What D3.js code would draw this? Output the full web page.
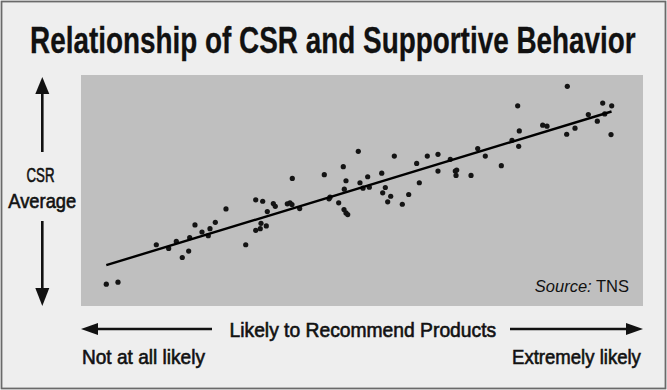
<!DOCTYPE html>
<html><head><meta charset="utf-8">
<script src="https://cdn.jsdelivr.net/npm/d3@7"></script>
<style>
body{margin:0;background:#fff}
text{font-family:"Liberation Sans",Arial,Helvetica,sans-serif}
</style>
</head><body>
<svg id="c" width="667" height="390"></svg>
<script>
const title = "Relationship of CSR and Supportive Behavior";
const yLabel = ["CSR", "Average"];
const xLabel = "Likely to Recommend Products";
const xEnds = ["Not at all likely", "Extremely likely"];
const sourceLabel = ["Source:", " TNS"];

// Likelihood to recommend (0-100) vs CSR average (0-100)
const xVals = [4.50,6.58,13.40,15.60,16.96,18.02,19.16,19.34,20.28,21.53,22.65,22.95,23.90,25.80,29.31,31.09,32.33,31.09,31.90,32.03,
  32.97,33.15,34.22,34.57,37.60,36.71,37.19,37.54,38.91,43.29,44.13,44.31,45.85,46.67,47.15,46.85,46.80,47.15,47.46,49.34,
  49.64,50.18,51.01,51.30,53.51,54.15,53.68,55.11,54.57,55.75,57.17,58.31,59.73,60.20,61.62,63.52,63.52,65.71,66.60,66.85,
  66.73,69.40,70.59,71.94,74.79,76.69,77.70,77.99,77.88,82.15,82.92,86.53,86.42,87.90,90.27,91.87,92.83,93.19,94.43,94.31];
const yVals = [9.43,10.30,26.52,24.91,27.96,21.00,23.78,29.57,35.09,32.04,30.43,33.48,36.22,42.04,26.52,45.96,45.35,32.74,33.48,35.78,
  34.65,40.87,44.35,43.17,55.22,44.22,44.65,43.91,42.17,56.83,46.39,47.09,44.65,60.30,54.22,50.57,41.74,40.30,39.57,66.96,
  53.35,51.00,55.96,51.43,57.52,51.30,49.00,47.52,45.09,64.91,44.04,48.26,61.74,53.35,64.91,65.65,58.39,63.48,58.39,58.83,
  56.52,56.52,68.13,64.91,60.74,71.74,86.65,75.78,69.13,78.26,77.83,95.09,74.35,76.96,82.91,80.00,87.83,83.17,86.65,74.22];
const trendX = [4.5, 94.4];
const trendY = [17.7, 84.2];

const svg = d3.select("#c");
const W = 667, H = 390;
const plot = {l: 81, r: 643, t: 75, b: 306};

svg.append("rect").attr("x", 1.5).attr("y", 1.5).attr("width", W - 3).attr("height", H - 3)
  .attr("fill", "#eeeeee").attr("stroke", "#6a6a6a").attr("stroke-width", 1.8);

svg.append("rect").attr("x", plot.l).attr("y", plot.t).attr("width", plot.r - plot.l).attr("height", plot.b - plot.t)
  .attr("fill", "#bfbfbf");

const x = d3.scaleLinear().domain([0, 100]).range([plot.l, plot.r]);
const y = d3.scaleLinear().domain([0, 100]).range([plot.b, plot.t]);

// condensed-looking text: natural text squeezed horizontally to a target width
function fitText(str, px, py, anchor, width, size, weight) {
  const g = svg.append("g");
  const t = g.append("text").attr("x", 0).attr("y", 0).attr("font-size", size)
    .attr("font-weight", weight || "normal").attr("fill", "#111")
    .attr("stroke", "#111").attr("stroke-width", weight === "bold" ? 0.3 : 0.6).text(str);
  const nat = t.node().getComputedTextLength();
  const s = width / nat;
  const off = anchor === "middle" ? -width / 2 : anchor === "end" ? -width : 0;
  g.attr("transform", `translate(${px + off},${py}) scale(${s},1)`);
  return g;
}

// title
fitText(title, 333, 53, "middle", 606, 36, "bold");

// points
svg.append("g").selectAll("circle").data(xVals.map((v, i) => [v, yVals[i]])).join("circle")
  .attr("cx", d => x(d[0])).attr("cy", d => y(d[1])).attr("r", 2.6).attr("fill", "#141414");

// trend line
svg.append("path").datum(trendX.map((v, i) => [v, trendY[i]]))
  .attr("d", d3.line().x(d => x(d[0])).y(d => y(d[1])))
  .attr("stroke", "#000").attr("stroke-width", 2.4).attr("fill", "none");

// source
const src = svg.append("text").attr("x", 629).attr("y", 292).attr("text-anchor", "end")
  .attr("font-size", 16.5).attr("fill", "#111");
src.append("tspan").attr("font-style", "italic").text(sourceLabel[0]);
src.append("tspan").text(sourceLabel[1]);

// y axis label and arrows
const ax = 42.3;
fitText(yLabel[0], 40.5, 182.3, "middle", 28, 20);
fitText(yLabel[1], ax, 208, "middle", 68, 20);

const arrowG = svg.append("g").attr("fill", "#111").attr("stroke", "#111");
arrowG.append("line").attr("x1", ax).attr("x2", ax).attr("y1", 90).attr("y2", 152).attr("stroke-width", 2.6);
arrowG.append("path").attr("stroke", "none").attr("d", `M${ax},77 L${ax-7},94 L${ax+7},94 Z`);
arrowG.append("line").attr("x1", ax).attr("x2", ax).attr("y1", 221).attr("y2", 292).attr("stroke-width", 2.6);
arrowG.append("path").attr("stroke", "none").attr("d", `M${ax},306 L${ax-7},288 L${ax+7},288 Z`);

// x axis label and arrows
const ay = 329;
arrowG.append("line").attr("x1", 95).attr("x2", 212).attr("y1", ay).attr("y2", ay).attr("stroke-width", 2.6);
arrowG.append("path").attr("stroke", "none").attr("d", `M81,${ay} L98,${ay-6} L98,${ay+6} Z`);
arrowG.append("line").attr("x1", 510).attr("x2", 630).attr("y1", ay).attr("y2", ay).attr("stroke-width", 2.6);
arrowG.append("path").attr("stroke", "none").attr("d", `M643,${ay} L626,${ay-6} L626,${ay+6} Z`);

fitText(xLabel, 363, 336.5, "middle", 267, 20);
fitText(xEnds[0], 82, 364, "start", 123, 20);
fitText(xEnds[1], 641, 364, "end", 129, 20);
</script>
</body></html>
